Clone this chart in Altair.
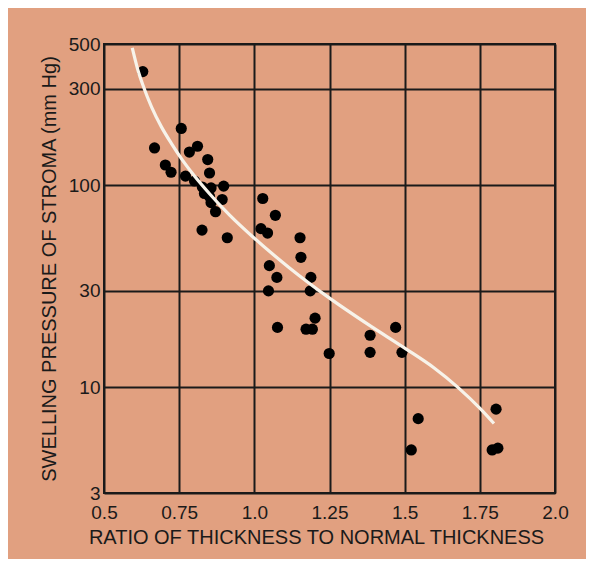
import altair as alt
import pandas as pd

# Measured points: ratio of thickness to normal thickness vs swelling pressure (mm Hg)
ratio = [0.629, 0.668, 0.704, 0.723, 0.757, 0.784, 0.811, 0.845, 0.771, 0.801,
         0.851, 0.827, 0.856, 0.898, 0.834, 0.851, 0.893, 0.856, 0.871, 0.826,
         0.910, 1.028, 1.070, 1.022, 1.044, 1.152, 1.155, 1.050, 1.075, 1.047,
         1.188, 1.186, 1.202, 1.077, 1.172, 1.193, 1.249, 1.385, 1.470, 1.385,
         1.491, 1.545, 1.522, 1.804, 1.791, 1.810]
pressure = [365, 153, 126, 116, 191, 146, 156, 134, 111, 105,
            115, 98, 97, 99, 91, 88, 85, 82, 74, 60,
            55, 86, 71, 61, 58, 55, 44, 40, 35, 30,
            35, 30, 22, 19.8, 19.4, 19.4, 14.7, 18.1, 19.8, 14.9,
            14.9, 7.0, 4.9, 7.8, 4.9, 5.0]

# Fitted curve (white line), read along its length
curve_ratio = [0.594, 0.612, 0.632, 0.658, 0.691, 0.725, 0.758, 0.801, 0.851, 0.917,
               1.000, 1.116, 1.249, 1.382, 1.504, 1.597, 1.677, 1.753, 1.797]
curve_pressure = [478, 375, 305.5, 244.4, 194.5, 160.3, 135.1, 111.1, 90.8, 71.4,
                  54.7, 39.1, 27.7, 20.3, 15.5, 12.5, 10.0, 7.80, 6.62]

x_ticks = [0.5, 0.75, 1.0, 1.25, 1.5, 1.75, 2.0]
y_ticks = [3, 10, 30, 100, 300, 500]

pts = pd.DataFrame({"ratio": ratio, "pressure": pressure})
crv = pd.DataFrame({"ratio": curve_ratio, "pressure": curve_pressure})

FONT = "Liberation Sans"
INK = "#1a1a1a"

x_enc = alt.X(
    "ratio:Q",
    scale=alt.Scale(domain=[0.5, 2.0], nice=False, zero=False),
    axis=alt.Axis(
        values=x_ticks,
        format=".2~f",
        labelExpr="datum.value == 1 ? '1.0' : datum.value == 2 ? '2.0' : datum.label",
        title="RATIO OF THICKNESS TO NORMAL THICKNESS",
        titleFontSize=20,
        titleX=212,
        labelFlush=False,
        labelOverlap=False,
        tickSize=0,
        labelPadding=10,
        titlePadding=5,
        domain=False,
    ),
)
y_enc = alt.Y(
    "pressure:Q",
    scale=alt.Scale(type="log", domain=[3, 500], nice=False),
    axis=alt.Axis(
        values=y_ticks,
        format="d",
        title="SWELLING PRESSURE OF STROMA (mm Hg)",
        titleFontSize=20,
        labelFlush=False,
        labelOverlap=False,
        tickSize=0,
        labelPadding=4,
        titlePadding=9,
        domain=False,
    ),
)

points = alt.Chart(pts).mark_circle(size=125, color="#000000", opacity=1).encode(x=x_enc, y=y_enc)
line = alt.Chart(crv).mark_line(color="#f7f3ea", strokeWidth=3.2, interpolate="monotone").encode(
    x="ratio:Q", y="pressure:Q"
)

chart = (
    alt.layer(points, line)
    .properties(
        width=451,
        height=449,
        background="#e1a080",
        padding={"left": 96, "top": 36, "right": 31, "bottom": 66},
        autosize=alt.AutoSizeParams(type="none"),
    )
    .configure_view(stroke=INK, strokeWidth=2)
    .configure_axis(
        grid=True,
        gridColor=INK,
        gridWidth=2,
        gridOpacity=1,
        labelFont=FONT,
        labelFontSize=19,
        labelColor=INK,
        titleFont=FONT,
        titleFontWeight="normal",
        titleColor=INK,
    )
)

chart.save("out.html", embed_options={"renderer": "svg", "actions": False})
